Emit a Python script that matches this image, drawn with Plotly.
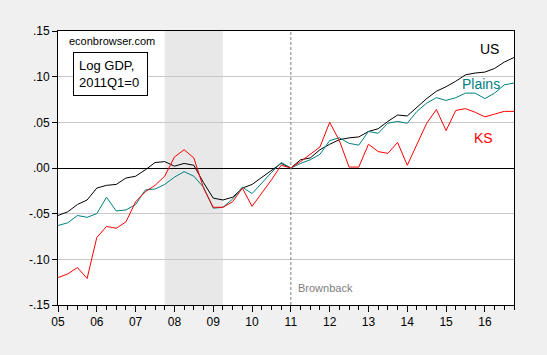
import plotly.graph_objects as go

# Quarterly index 0 = 2005Q1 ... 47 = 2016Q4
quarters = [f"{y}Q{q}" for y in range(2005, 2017) for q in range(1, 5)]
qidx = list(range(len(quarters)))

us = [-0.052, -0.048, -0.040, -0.035, -0.022, -0.019, -0.018, -0.011,
      -0.009, -0.002, 0.006, 0.007, 0.002, 0.005, 0.003, -0.016,
      -0.033, -0.035, -0.032, -0.022, -0.018, -0.010, -0.002, 0.005,
      0.000, 0.009, 0.011, 0.020, 0.026, 0.031, 0.033, 0.034,
      0.040, 0.043, 0.051, 0.058, 0.057, 0.067, 0.076, 0.084,
      0.089, 0.095, 0.102, 0.104, 0.105, 0.109, 0.116, 0.121]

plains = [-0.063, -0.060, -0.052, -0.054, -0.050, -0.032, -0.047, -0.046,
          -0.040, -0.024, -0.023, -0.018, -0.010, -0.004, -0.009, -0.021,
          -0.044, -0.043, -0.034, -0.021, -0.028, -0.016, -0.005, 0.006,
          0.000, 0.005, 0.009, 0.015, 0.030, 0.033, 0.027, 0.025,
          0.040, 0.038, 0.049, 0.051, 0.049, 0.062, 0.071, 0.077,
          0.074, 0.077, 0.082, 0.082, 0.076, 0.082, 0.091, 0.093]

ks = [-0.120, -0.116, -0.109, -0.121, -0.076, -0.064, -0.066, -0.059,
      -0.037, -0.026, -0.019, -0.009, 0.012, 0.020, 0.011, -0.022,
      -0.043, -0.043, -0.037, -0.022, -0.042, -0.028, -0.013, 0.003,
      0.000, 0.007, 0.015, 0.023, 0.050, 0.030, 0.001, 0.001,
      0.026, 0.018, 0.016, 0.028, 0.003, 0.027, 0.049, 0.064,
      0.041, 0.063, 0.065, 0.061, 0.056, 0.059, 0.062, 0.062]

year_ticks = list(range(0, 48, 4))
year_labels = [f"{y % 100:02d}" for y in range(2005, 2017)]
y_ticks = [-0.15, -0.10, -0.05, 0.0, 0.05, 0.10, 0.15]
y_labels = ["-.15", "-.10", "-.05", ".00", ".05", ".10", ".15"]

recession = (quarters.index("2007Q4"), quarters.index("2009Q2"))
brownback = quarters.index("2011Q1")

FONT = "Arial, Liberation Sans, sans-serif"

fig = go.Figure()
fig.add_trace(go.Scatter(x=qidx, y=us, mode="lines", name="US",
                         line=dict(color="#000000", width=1)))
fig.add_trace(go.Scatter(x=qidx, y=plains, mode="lines", name="Plains",
                         line=dict(color="#008080", width=1)))
fig.add_trace(go.Scatter(x=qidx, y=ks, mode="lines", name="KS",
                         line=dict(color="#FF0000", width=1)))

fig.add_shape(type="rect", xref="x", yref="paper", x0=recession[0], x1=recession[1],
              y0=0, y1=1, fillcolor="#E8E8E8", line=dict(width=0), layer="below")
fig.add_shape(type="line", xref="x", yref="paper", x0=brownback, x1=brownback,
              y0=0, y1=1, line=dict(color="#808080", width=1, dash="3px,2px"))

W, H = 547, 355
L, R, T, B = 58, 33, 31, 50
pw, ph = W - L - R, H - T - B


def px(x):
    return (x - L) / pw


def py(y):
    return (H - B - y) / ph


ann = [
    dict(text="econbrowser.com", x=px(67), y=py(41), xanchor="left", yanchor="middle",
         font=dict(size=11, color="#000000")),
    dict(text="Log GDP,<br>2011Q1=0", x=px(73), y=py(52), xanchor="left", yanchor="top",
         align="left", bordercolor="#000000", borderwidth=1, borderpad=5,
         bgcolor="#FFFFFF", font=dict(size=13, color="#000000"), width=63),
    dict(text="US", x=px(489), y=py(49), xanchor="center", yanchor="middle",
         font=dict(size=14, color="#000000")),
    dict(text="Plains", x=px(481), y=py(84), xanchor="center", yanchor="middle",
         font=dict(size=14, color="#008080")),
    dict(text="KS", x=px(483.5), y=py(138), xanchor="center", yanchor="middle",
         font=dict(size=14, color="#FF0000")),
    dict(text="Brownback", x=px(296), y=py(288), xanchor="left", yanchor="middle",
         font=dict(size=11, color="#808080")),
]
for a in ann:
    a.update(xref="paper", yref="paper", showarrow=False)

fig.update_layout(
    width=W, height=H,
    margin=dict(l=L, r=R, t=T, b=B),
    paper_bgcolor="#F0F0F0", plot_bgcolor="#FFFFFF",
    showlegend=False,
    font=dict(family=FONT, size=12, color="#000000"),
    annotations=ann,
    xaxis=dict(range=[0, len(quarters) - 1], tickmode="array", tickvals=year_ticks,
               ticktext=year_labels, ticks="outside", ticklen=6, tickcolor="#000000",
               showgrid=False, zeroline=False, showline=True, linecolor="#000000",
               linewidth=1, mirror=True,
               minor=dict(tickmode="linear", tick0=0, dtick=1, ticks="outside",
                          ticklen=4, tickcolor="#000000", showgrid=False),
               tickfont=dict(size=12)),
    yaxis=dict(range=[-0.15, 0.15], tickmode="array", tickvals=y_ticks, ticktext=y_labels,
               ticks="outside", ticklen=5, tickcolor="#000000",
               showgrid=True, gridcolor="#C8C8C8", gridwidth=1,
               zeroline=True, zerolinecolor="#000000", zerolinewidth=1,
               showline=True, linecolor="#000000", linewidth=1, mirror=True,
               tickfont=dict(size=12)),
)

fig.write_html("out.html",
               config={"displayModeBar": False},
               post_script="document.body.style.margin='0';document.body.style.background='#F0F0F0';")
